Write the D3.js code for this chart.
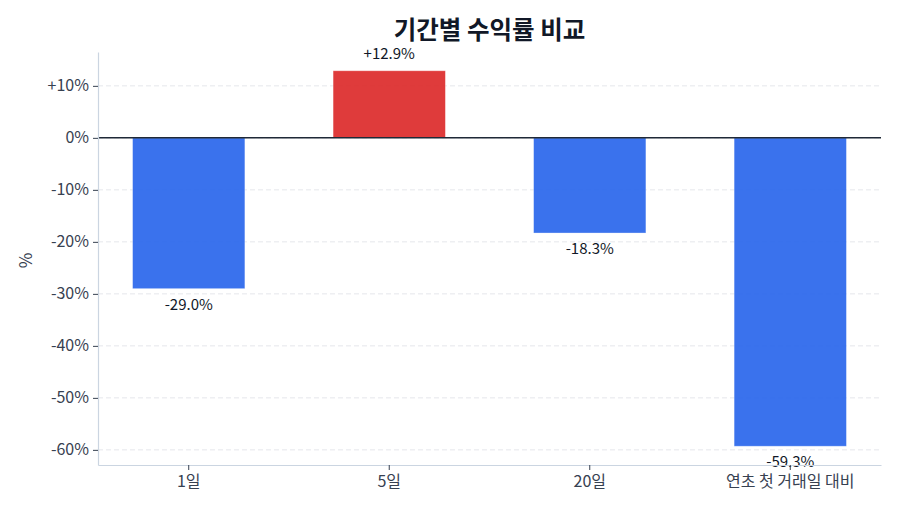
<!DOCTYPE html>
<html>
<head>
<meta charset="utf-8">
<script src="https://cdn.jsdelivr.net/npm/d3@7"></script>
<style>
  body { margin: 0; background: #fff; }
  text { font-family: "Noto Sans CJK KR", "Noto Sans", sans-serif; }
</style>
</head>
<body>
<div id="container"></div>
<script>
const categories = ["1일", "5일", "20일", "연초 첫 거래일 대비"];
const returns = [-29.0, 12.9, -18.3, -59.3];
const yTicks = [10, 0, -10, -20, -30, -40, -50, -60];

const width = 900;
const height = 514;
const margin = { top: 52, right: 19, bottom: 49, left: 98 };

const svg = d3.select("#container").append("svg")
    .attr("width", width)
    .attr("height", height)
    .attr("viewBox", `0 0 ${width} ${height}`);

// matplotlib-style 5% margins around the data
let lo = d3.min(returns.concat([0]));
let hi = d3.max(returns.concat([0]));
let pad = (hi - lo) * 0.05;

let x = d3.scaleBand()
    .domain(categories)
    .range([margin.left, width - margin.right])
    .paddingInner(0.44)
    .paddingOuter(0.1725);

let y = d3.scaleLinear()
    .domain([lo - pad, hi + pad])
    .range([height - margin.bottom, margin.top]);

const fmt = v => (v > 0 ? "+" : "") + v + "%";

// grid
svg.append("g")
    .selectAll("line")
    .data(yTicks)
    .join("line")
    .attr("x1", margin.left)
    .attr("x2", width - margin.right)
    .attr("y1", d => y(d))
    .attr("y2", d => y(d))
    .attr("stroke", "#e5e7eb")
    .attr("stroke-width", 1)
    .attr("stroke-dasharray", "5,3");

// bars
svg.append("g")
    .selectAll("rect")
    .data(returns)
    .join("rect")
    .attr("x", (d, i) => x(categories[i]))
    .attr("width", x.bandwidth())
    .attr("y", d => y(Math.max(0, d)))
    .attr("height", d => Math.abs(y(d) - y(0)))
    .attr("fill", d => d >= 0 ? "#dc2626" : "#2563eb")
    .attr("fill-opacity", 0.9)
    .attr("stroke", "#ffffff")
    .attr("stroke-opacity", 0.4)
    .attr("stroke-width", 0.8);

// zero line
svg.append("line")
    .attr("x1", margin.left)
    .attr("x2", width - margin.right)
    .attr("y1", y(0))
    .attr("y2", y(0))
    .attr("stroke", "#1f2937")
    .attr("stroke-width", 1.5);

// value labels
svg.append("g")
    .selectAll("text")
    .data(returns)
    .join("text")
    .attr("x", (d, i) => x(categories[i]) + x.bandwidth() / 2)
    .attr("y", d => d >= 0 ? y(d) - 12 : y(d) + 21)
    .attr("text-anchor", "middle")
    .attr("font-size", 15)
    .attr("fill", "#111827")
    .text(d => fmt(d.toFixed(1)));

// axes
let yAxis = svg.append("g")
    .attr("transform", `translate(${margin.left},0)`)
    .call(d3.axisLeft(y).tickValues(yTicks).tickFormat(d => fmt(d))
        .tickSize(5).tickSizeOuter(0).tickPadding(4));

let xAxis = svg.append("g")
    .attr("transform", `translate(0,${height - margin.bottom})`)
    .call(d3.axisBottom(x).tickSize(5).tickSizeOuter(0).tickPadding(6));

[yAxis, xAxis].forEach(a => {
    a.select(".domain").attr("stroke", "#cbd5e1").attr("stroke-width", 1.2);
    a.selectAll(".tick line").attr("stroke", "#374151");
    a.selectAll(".tick text")
        .attr("font-size", 16)
        .attr("fill", "#374151")
        .style("font-family", '"Noto Sans CJK KR", "Noto Sans", sans-serif');
});

// y label
svg.append("text")
    .attr("transform", `translate(32,${(margin.top + height - margin.bottom) / 2 + 2}) rotate(-90)`)
    .attr("text-anchor", "middle")
    .attr("font-size", 17)
    .attr("fill", "#374151")
    .text("%");

// title
svg.append("text")
    .attr("x", (margin.left + width - margin.right) / 2)
    .attr("y", 39)
    .attr("text-anchor", "middle")
    .attr("font-size", 24.5)
    .attr("font-weight", "bold")
    .attr("fill", "#111827")
    .text("기간별 수익률 비교");
</script>
</body>
</html>
